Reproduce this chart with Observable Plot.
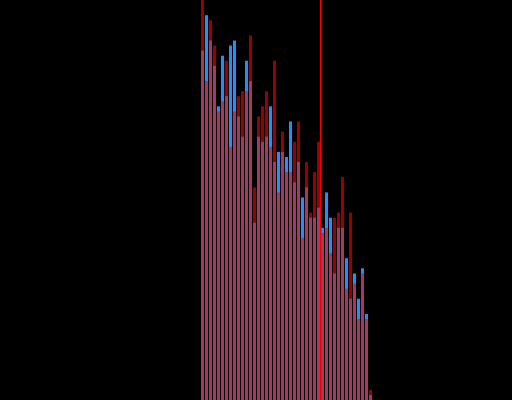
<!DOCTYPE html>
<html>
<head>
<meta charset="utf-8">
<script src="https://cdn.jsdelivr.net/npm/d3@7"></script>
<script src="https://cdn.jsdelivr.net/npm/@observablehq/plot@0.6"></script>
<style>
  html, body { margin: 0; padding: 0; background: #000; }
  #chart { width: 512px; height: 400px; overflow: hidden; }
</style>
</head>
<body>
<div id="chart"></div>
<script>
// Bin index for each bar
const bins = d3.range(43);

// Counts per bin for the two groups
const blueCounts = [69, 76, 71, 66, 58, 68, 60, 70, 71, 56, 52, 67, 63, 35, 52, 51, 52, 58, 47, 49,
                    49, 48, 55, 43, 47, 40, 42, 36, 36, 38, 34, 41, 36, 25, 34, 34, 28, 20, 25, 20,
                    26, 17, 1];
const redCounts  = [79, 63, 75, 70, 57, 59, 67, 50, 57, 60, 61, 61, 72, 42, 56, 58, 61, 50, 67, 41,
                    53, 45, 45, 51, 55, 32, 47, 37, 45, 51, 33, 34, 29, 36, 37, 44, 22, 37, 23, 16,
                    25, 16, 2];

// Reference position marked with a vertical line
const marker = 29.82;

const blue = bins.map((b, i) => ({bin: b, count: blueCounts[i]}));
const red = bins.map((b, i) => ({bin: b, count: redCounts[i]}));

const chart = Plot.plot({
  width: 512,
  height: 400,
  marginLeft: 201,
  marginRight: 139,
  marginTop: 0,
  marginBottom: 0,
  style: {background: "#000"},
  x: {domain: [0, 43], axis: null},
  y: {domain: [0, d3.max([...blueCounts, ...redCounts])], axis: null},
  marks: [
    Plot.rectY(blue, {x1: "bin", x2: d => d.bin + 1, y: "count", fill: "#1e90ff", insetRight: 1}),
    Plot.rectY(red, {x1: "bin", x2: d => d.bin + 1, y: "count", fill: "red", fillOpacity: 0.6, insetRight: 1}),
    Plot.ruleX([marker], {stroke: "red", strokeWidth: 1.5})
  ]
});

document.getElementById("chart").append(chart);
</script>
</body>
</html>
